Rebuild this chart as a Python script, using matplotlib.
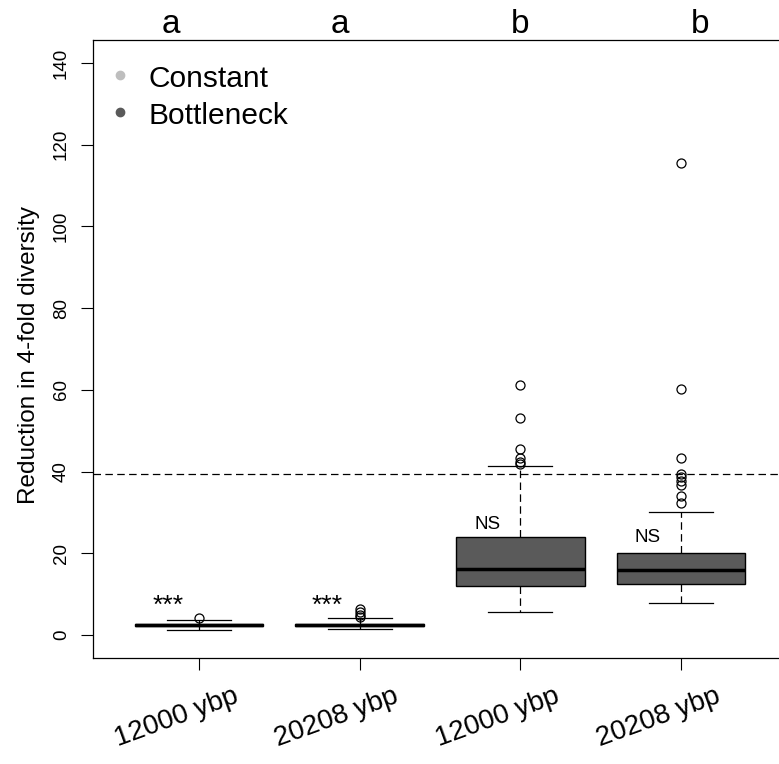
import numpy as np
import matplotlib.pyplot as plt
import matplotlib.transforms as mtrans

plt.rcParams['font.family'] = ['Liberation Sans', 'DejaVu Sans']

# boxplot summary
positions = [1, 2, 3, 4]
tick_labels = ["12000 ybp", "20208 ybp", "12000 ybp", "20208 ybp"]
groups = ["Constant", "Constant", "Bottleneck", "Bottleneck"]
q1 = [2.3, 2.3, 12.1, 12.6]
med = [2.5, 2.5, 16.1, 15.9]
q3 = [2.75, 2.75, 23.9, 20.2]
whislo = [1.2, 1.5, 5.7, 7.8]
whishi = [3.7, 4.1, 41.4, 30.1]
fliers = [
    [4.3],
    [4.5, 5.0, 5.6, 6.3],
    [41.8, 42.4, 43.3, 45.6, 53.0, 61.1],
    [32.2, 34.1, 36.7, 37.7, 38.7, 39.3, 43.4, 60.1, 115.4],
]
letters = ["a", "a", "b", "b"]
letter_x = [0.826, 1.877, 2.997, 4.117]
marks = ["***", "***", "NS", "NS"]
mark_x = [0.807, 1.80, 2.798, 3.794]
mark_y = [5.4, 5.4, 26.0, 22.8]
mark_size = [19, 19, 13.5, 13.5]
threshold = 39.4
legend_names = ["Constant", "Bottleneck"]
legend_y = [134.1, 125.05]
colors = {"Constant": "#BEBEBE", "Bottleneck": "#5A5A5A"}

stats = []
for i in range(len(positions)):
    stats.append(dict(q1=q1[i], med=med[i], q3=q3[i], whislo=whislo[i],
                      whishi=whishi[i], fliers=fliers[i]))

fig = plt.figure(figsize=(7.79, 7.64), dpi=100)
ax = fig.add_axes([93 / 779, 106 / 764, 1 - 93 / 779, (658 - 40) / 764])

dash = (0, (6, 3.5))
bp = ax.bxp(stats, positions=positions, widths=0.8, patch_artist=True,
            showfliers=True,
            boxprops=dict(linewidth=1.0, edgecolor="black"),
            medianprops=dict(color="black", linewidth=2.5, solid_capstyle="butt"),
            whiskerprops=dict(linestyle=dash, linewidth=0.9, color="black"),
            capprops=dict(linewidth=0.9, color="black"),
            flierprops=dict(marker="o", markerfacecolor="none", markeredgecolor="black",
                            markersize=6.5, markeredgewidth=0.9))
for patch, g in zip(bp["boxes"], groups):
    patch.set_facecolor(colors[g])
for cap, w in zip(bp["caps"], np.repeat(positions, 2)):
    cap.set_xdata([w - 0.2, w + 0.2])

ax.axhline(threshold, color="black", linestyle=dash, linewidth=0.9)

ax.set_xlim(0.34, 4.61)
ax.set_ylim(-5.6, 145.6)
ax.set_yticks(np.arange(0, 141, 20))
ax.tick_params(axis="y", labelrotation=90, labelsize=13.5, length=8.6, width=0.8, pad=8)
ax.tick_params(axis="x", length=8.6, width=0.8, labelbottom=False)
for lbl in ax.get_yticklabels():
    lbl.set_va("center")
ax.set_xticks(positions)
for s in ax.spines.values():
    s.set_linewidth(0.9)
ax.spines["right"].set_visible(False)
ax.set_ylabel("Reduction in 4-fold diversity", fontsize=17.5)
ax.yaxis.set_label_coords(-0.077, 0.49)

trans = mtrans.blended_transform_factory(ax.transData, fig.transFigure)
for x, t in zip(positions, tick_labels):
    ax.text(x - 0.143, 46.5 / 764, t, transform=trans, rotation=20,
            ha="center", va="center", fontsize=20)
for x, t in zip(letter_x, letters):
    ax.text(x, (764 - 33) / 764, t, transform=trans,
            ha="center", va="baseline", fontsize=24, clip_on=False)
for x, y, t, fs in zip(mark_x, mark_y, marks, mark_size):
    ax.text(x, y, t, ha="center", va="baseline", fontsize=fs)

# legend
for g, y in zip(legend_names, legend_y):
    ax.plot([0.508], [y + 2.9], "o", color=colors[g], markersize=6)
    ax.text(0.683, y, g, ha="left", va="baseline", fontsize=21.5)

fig.savefig("out.png", dpi=100)
